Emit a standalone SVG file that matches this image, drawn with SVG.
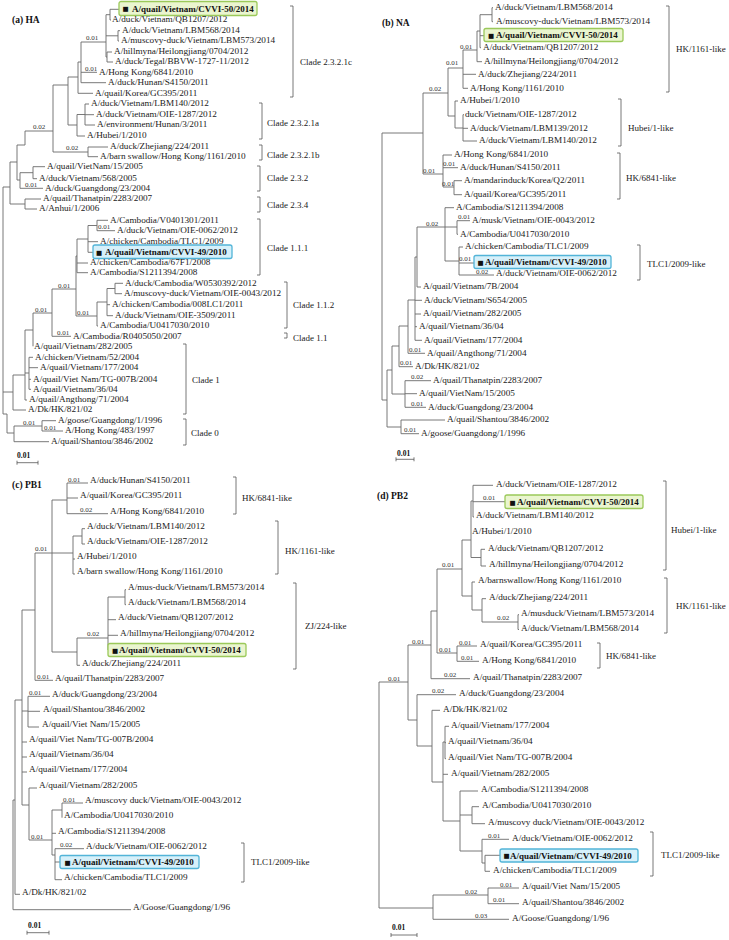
<svg xmlns="http://www.w3.org/2000/svg" width="729" height="940" viewBox="0 0 729 940">
<style>
.lf{font-family:'Liberation Serif','Times New Roman',serif;font-size:9.2px;fill:#1a1a1a}
.bx{font-family:'Liberation Serif','Times New Roman',serif;font-size:9px;font-weight:bold;fill:#111}
.sq{font-family:'DejaVu Sans',sans-serif;font-size:6.5px;fill:#111}
.cl{font-family:'Liberation Serif','Times New Roman',serif;font-size:9px;fill:#1a1a1a}
.bl{font-family:'Liberation Serif','Times New Roman',serif;font-size:7px;fill:#333}
.pl{font-family:'Liberation Serif','Times New Roman',serif;font-size:9.5px;font-weight:bold;fill:#111}
.sc{font-family:'Liberation Serif','Times New Roman',serif;font-size:7.5px;font-weight:bold;fill:#111}
.ln{fill:none;stroke:#6a6a6a;stroke-width:0.9}
.br{fill:none;stroke:#555;stroke-width:0.8}
.gbox{fill:#eaf5cf;stroke:#9bc95a;stroke-width:1.3}
.bbox{fill:#d6f0fa;stroke:#52b4d8;stroke-width:1.3}
</style>
<rect width="729" height="940" fill="#fff"/>
<g id="connectors">
<path id="conn-a" class="ln" d="M110 9.3V20M110 9.3H119M110 20H111M118 30.7V41M118 30.7H120M118 41H119M107 52V62M107 52H112M107 62H113M106 14.7V57M106 14.7H110M106 35.8H118M106 57H107M81 42V82.7M81 42H106M81 72.3H97M81 82.7H106M78 62V93.3M78 62H81M78 93.3H93M85 104V125M85 104H89M85 114.7H94M85 125H95M77 114.5V136M77 114.5H85M77 136H85M68 77V125M68 77H78M68 125H77M88 147V156.7M88 147H108M88 156.7H98M53 85V152M53 85H68M53 152H88M25 131V145M25 131H53M17 145H25M33 166.7V178.7M33 166.7H45M33 178.7H37M20 172.7V188.3M20 172.7H33M20 188.3H43M17 145V180M17 180H20M25 199V209M25 199H41M25 209H37M10 162V204M10 162H17M10 204H25M3 187V414M3 187H10M3 392H13M3 414H7M7 414V433M7 433H14M97 220.3V230.7M97 220.3H108M97 230.7H115M88 225.5V252.3M88 225.5H97M88 241.7H98M88 252.3H93M77 239V272.7M77 239H88M77 263H88M77 272.7H88M115 283.3V293.7M115 283.3H123M115 293.7H122M107 288.5V315.7M107 288.5H115M107 304.7H110M107 315.7H113M97 302V326M97 302H107M97 326H98M76 256V316M76 256H77M76 316H97M52 289V336.3M52 289H76M52 336.3H71M33 313V346.3M33 313H52M29 357.3V389.3M29 357.3H33M29 367.7H38M29 379.3H31M29 389.3H31M25 330V400M25 330H33M25 373H29M25 400H27M13 375V410M13 375H25M13 410H26M42 420.7V431M42 420.7H56M42 431H63M14 426V441.7M14 426H42M14 441.7H49"/>
<path id="conn-b" class="ln" d="M492 7.7V21.7M492 7.7H493M492 21.7H493M480 14.7V47.7M480 14.7H492M480 35.7H484M480 47.7H481M477 31V61.7M477 31H480M477 61.7H482M463 50V88.3M463 50H477M463 74.3H476M463 88.3H468M448 68V116M448 68H463M448 116H455M455 101V128M455 101H458M455 128H463M463 114.7V141M463 114.7H464M463 128.3H468M463 141H477M443 155V187M443 155H452M443 167.7H458M443 187H454M454 180.7V194.7M454 180.7H462M454 194.7H462M423 93V174M423 93H448M423 174H443M382 133V400M382 133H423M382 400H387M457 220.7V234.3M457 220.7H470M457 234.3H458M459 247V275M459 247H463M459 263H474M459 275H494M445 207.7V261M445 207.7H454M445 227H457M445 261H459M417 227V287M417 227H445M417 287H421M415 257V340.3M415 257H417M415 300.3H422M415 314H421M415 326.7H417M415 340.3H422M408 300V353.3M408 300H415M408 353.3H425M399 326V366.7M399 326H408M399 366.7H413M405 380.7V407.3M405 380.7H431M405 393.7H417M405 407.3H426M392 346V394M392 346H399M392 394H405M401 420V433.7M401 420H445M401 433.7H419M387 370V427M387 370H392M387 427H401"/>
<path id="conn-c" class="ln" d="M67 483V513.7M67 483H88M67 498H78M67 513.7H108M82 528.7V544M82 528.7H85M82 544H85M73 536V574M73 536H82M73 559H75M73 574H75M125 589.7V604.7M125 589.7H126M125 604.7H126M108 597V650M108 597H125M108 619.7H116M108 635.3H118M77 638V665.3M77 638H108M77 665.3H80M52 500V652M52 500H67M35 553H73M52 652H77M35 553V680.3M35 680.3H53M22 610V805M22 610H35M22 711H28M22 742H27M22 757H27M22 772H27M22 805H29M28 696.3V727M28 696.3H50M28 711.3H40M28 727H39M29 788V840M29 788H37M29 840H52M62 803V817.7M62 803H83M52 810V855M52 810H62M52 833.3H56M52 855H55M55 848.7V879.7M55 848.7H84M55 862H60M55 879.7H62M15 700V894.3M15 700H22M15 894.3H20M13 800V909.7M13 800H15M13 909.7H131"/>
<path id="conn-d" class="ln" d="M473 485.3V517M473 485.3H493M473 501.7H505M473 517H474M481 549.3V566M481 549.3H485M481 566H486M471 501V557.5M471 501H473M471 557.5H481M518 614.7V629.5M518 614.7H519M518 629.5H519M482 598.7V622M482 598.7H486M482 622H518M472 582V610M472 582H475M472 610H482M462 540V596M462 540H471M462 596H472M457 646V661.3M457 646H477M457 661.3H479M437 569V653M437 569H462M437 653H457M431 611V678.7M431 611H437M431 678.7H470M445 726.3V758.7M445 726.3H449M445 742.7H446M445 758.7H446M472 806.7V823.7M472 806.7H479M472 823.7H485M485 855.3V871.3M485 855.3H500M485 871.3H490M482 839.3V863M482 839.3H509M482 863H485M460 791V851M460 791H478M460 815H472M460 851H482M443 742V821M443 742H445M443 774.3H448M443 821H460M432 710.3V782M432 710.3H440M432 782H443M417 694.7V746M417 694.7H456M417 746H432M408 645V720M408 645H431M408 720H417M488 888V903.7M488 888H519M488 903.7H519M433 895V919.3M433 895H488M433 919.3H509M379 682V908M379 682H408M379 908H433"/>
</g>
<g id="branch-labels">
<text class="bl" x="86" y="40">0.01</text><text class="bl" x="85" y="71">0.01</text><text class="bl" x="33" y="129">0.02</text><text class="bl" x="66" y="150">0.02</text><text class="bl" x="25" y="186.5">0.01</text><text class="bl" x="98" y="229">0.01</text><text class="bl" x="58" y="287.5">0.01</text><text class="bl" x="35" y="311.5">0.01</text><text class="bl" x="77" y="314.5">0.01</text><text class="bl" x="57" y="334.5">0.01</text><text class="bl" x="23" y="424.5">0.01</text><text class="bl" x="44" y="429.5">0.01</text>
<text class="bl" x="460" y="48.5">0.01</text><text class="bl" x="446" y="65">0.01</text><text class="bl" x="429" y="90.5">0.02</text><text class="bl" x="443" y="165.5">0.01</text><text class="bl" x="423" y="172.5">0.01</text><text class="bl" x="442" y="185.5">0.01</text><text class="bl" x="426" y="225.5">0.02</text><text class="bl" x="458" y="219">0.01</text><text class="bl" x="459" y="261">0.01</text><text class="bl" x="476" y="273.5">0.02</text><text class="bl" x="409" y="351.5">0.01</text><text class="bl" x="400" y="365">0.01</text><text class="bl" x="411" y="379">0.02</text><text class="bl" x="411" y="405.5">0.01</text><text class="bl" x="404" y="432">0.01</text>
<text class="bl" x="68" y="481.5">0.01</text><text class="bl" x="80" y="512">0.02</text><text class="bl" x="35" y="551">0.01</text><text class="bl" x="87" y="636">0.02</text><text class="bl" x="37" y="678.5">0.01</text><text class="bl" x="29" y="694.5">0.01</text><text class="bl" x="63" y="801.5">0.01</text><text class="bl" x="31" y="838.5">0.01</text><text class="bl" x="60" y="847">0.02</text>
<text class="bl" x="483" y="500">0.01</text><text class="bl" x="497" y="620">0.02</text><text class="bl" x="459" y="644.5">0.01</text><text class="bl" x="461" y="660">0.01</text><text class="bl" x="442" y="567">0.01</text><text class="bl" x="439" y="651.5">0.01</text><text class="bl" x="444" y="677">0.02</text><text class="bl" x="432" y="693">0.02</text><text class="bl" x="412" y="643.5">0.01</text><text class="bl" x="388" y="680.5">0.01</text><text class="bl" x="488" y="837.5">0.01</text><text class="bl" x="500" y="886.5">0.01</text><text class="bl" x="493" y="902">0.01</text><text class="bl" x="465" y="893.5">0.02</text><text class="bl" x="475" y="917.5">0.03</text>
</g>
<g id="panel-a">
<text class="pl" x="12" y="23">(a) HA</text>
<g id="a1"><rect class="gbox" x="119" y="1.5" width="138" height="14" rx="2"/><text class="sq" x="122.5" y="11.3">■</text><text class="bx" x="132" y="11.5">A/quail/Vietnam/CVVI-50/2014</text></g>
<g id="a2"><text class="lf" x="112" y="22.2">A/duck/Vietnam/QB1207/2012</text></g>
<g id="a3"><text class="lf" x="122" y="32.9">A/duck/Vietnam/LBM568/2014</text></g>
<g id="a4"><text class="lf" x="121" y="43.2">A/muscovy-duck/Vietnam/LBM573/2014</text></g>
<g id="a5"><text class="lf" x="114" y="54.2">A/hillmyna/Heilongjiang/0704/2012</text></g>
<g id="a6"><text class="lf" x="115" y="64.2">A/duck/Tegal/BBVW-1727-11/2012</text></g>
<g id="a7"><text class="lf" x="99" y="74.5">A/Hong Kong/6841/2010</text></g>
<g id="a8"><text class="lf" x="108" y="84.9">A/duck/Hunan/S4150/2011</text></g>
<g id="a9"><text class="lf" x="95" y="95.5">A/quail/Korea/GC395/2011</text></g>
<g id="a10"><text class="lf" x="91" y="106.2">A/duck/Vietnam/LBM140/2012</text></g>
<g id="a11"><text class="lf" x="96" y="116.9">A/duck/Vietnam/OIE-1287/2012</text></g>
<g id="a12"><text class="lf" x="97" y="127.2">A/environment/Hunan/3/2011</text></g>
<g id="a13"><text class="lf" x="87" y="138.2">A/Hubei/1/2010</text></g>
<g id="a14"><text class="lf" x="110" y="149.2">A/duck/Zhejiang/224/2011</text></g>
<g id="a15"><text class="lf" x="100" y="158.9">A/barn swallow/Hong Kong/1161/2010</text></g>
<g id="a16"><text class="lf" x="47" y="168.9">A/quail/VietNam/15/2005</text></g>
<g id="a17"><text class="lf" x="39" y="180.9">A/duck/Vietnam/568/2005</text></g>
<g id="a18"><text class="lf" x="45" y="190.5">A/duck/Guangdong/23/2004</text></g>
<g id="a19"><text class="lf" x="43" y="201.2">A/quail/Thanatpin/2283/2007</text></g>
<g id="a20"><text class="lf" x="39" y="211.2">A/Anhui/1/2006</text></g>
<g id="a21"><text class="lf" x="110" y="222.5">A/Cambodia/V0401301/2011</text></g>
<g id="a22"><text class="lf" x="117" y="232.9">A/duck/Vietnam/OIE-0062/2012</text></g>
<g id="a23"><text class="lf" x="100" y="243.9">A/chicken/Cambodia/TLC1/2009</text></g>
<g id="a24"><rect class="bbox" x="93" y="245" width="139" height="13.5" rx="2"/><text class="sq" x="96" y="254.5">■</text><text class="bx" x="105" y="254.7">A/quail/Vietnam/CVVI-49/2010</text></g>
<g id="a25"><text class="lf" x="90" y="265.2">A/chicken/Cambodia/67F1/2008</text></g>
<g id="a26"><text class="lf" x="90" y="274.9">A/Cambodia/S1211394/2008</text></g>
<g id="a27"><text class="lf" x="125" y="285.5">A/duck/Cambodia/W0530392/2012</text></g>
<g id="a28"><text class="lf" x="124" y="295.9">A/muscovy-duck/Vietnam/OIE-0043/2012</text></g>
<g id="a29"><text class="lf" x="112" y="306.9">A/chicken/Cambodia/008LC1/2011</text></g>
<g id="a30"><text class="lf" x="115" y="317.9">A/duck/Vietnam/OIE-3509/2011</text></g>
<g id="a31"><text class="lf" x="100" y="328.2">A/Cambodia/U0417030/2010</text></g>
<g id="a32"><text class="lf" x="73" y="338.5">A/Cambodia/R0405050/2007</text></g>
<g id="a33"><text class="lf" x="34" y="348.5">A/quail/Vietnam/282/2005</text></g>
<g id="a34"><text class="lf" x="35" y="359.5">A/chicken/Vietnam/52/2004</text></g>
<g id="a35"><text class="lf" x="40" y="369.9">A/quail/Vietnam/177/2004</text></g>
<g id="a36"><text class="lf" x="33" y="381.5">A/quail/Viet Nam/TG-007B/2004</text></g>
<g id="a37"><text class="lf" x="33" y="391.5">A/quail/Vietnam/36/04</text></g>
<g id="a38"><text class="lf" x="29" y="402.2">A/quail/Angthong/71/2004</text></g>
<g id="a39"><text class="lf" x="28" y="412.2">A/Dk/HK/821/02</text></g>
<g id="a40"><text class="lf" x="58" y="422.9">A/goose/Guangdong/1/1996</text></g>
<g id="a41"><text class="lf" x="65" y="433.2">A/Hong Kong/483/1997</text></g>
<g id="a42"><text class="lf" x="51" y="443.9">A/quail/Shantou/3846/2002</text></g>
<g id="clades-a">
<path class="br" d="M290 6H293V97H290M259 103H262V139H259M259 145H262V160H259M257 166H260V191H257M257 197H260V212H257M257 219H260V275H257M284 282H287V328H284M284 333H287V338H284M183 344H186V414H183M183 419H186V445H183"/>
<text class="cl" x="300" y="65">Clade 2.3.2.1c</text><text class="cl" x="267" y="126">Clade 2.3.2.1a</text><text class="cl" x="267" y="158">Clade 2.3.2.1b</text><text class="cl" x="267" y="181">Clade 2.3.2</text><text class="cl" x="267" y="208">Clade 2.3.4</text><text class="cl" x="267" y="251">Clade 1.1.1</text><text class="cl" x="293" y="308">Clade 1.1.2</text><text class="cl" x="293" y="341">Clade 1.1</text><text class="cl" x="192" y="383">Clade 1</text><text class="cl" x="191" y="436">Clade 0</text>
</g>
<g id="scale-a"><text class="sc" x="17" y="458">0.01</text><path class="br" d="M17 462.7H38M17 460.7V464.7M38 460.7V464.7"/></g>
</g>
<g id="panel-b">
<text class="pl" x="382" y="26">(b) NA</text>
<g id="b1"><text class="lf" x="495" y="9.9">A/duck/Vietnam/LBM568/2014</text></g>
<g id="b2"><text class="lf" x="496" y="23.9">A/muscovy-duck/Vietnam/LBM573/2014</text></g>
<g id="b3"><rect class="gbox" x="484" y="28.5" width="139" height="13" rx="2"/><text class="sq" x="488" y="37.8">■</text><text class="bx" x="496" y="38">A/quail/Vietnam/CVVI-50/2014</text></g>
<g id="b4"><text class="lf" x="483" y="49.9">A/duck/Vietnam/QB1207/2012</text></g>
<g id="b5"><text class="lf" x="484" y="63.9">A/hillmyna/Heilongjiang/0704/2012</text></g>
<g id="b6"><text class="lf" x="478" y="76.5">A/duck/Zhejiang/224/2011</text></g>
<g id="b7"><text class="lf" x="470" y="90.5">A/Hong Kong/1161/2010</text></g>
<g id="b8"><text class="lf" x="460" y="103.2">A/Hubei/1/2010</text></g>
<g id="b9"><text class="lf" x="465" y="116.9">duck/Vietnam/OIE-1287/2012</text></g>
<g id="b10"><text class="lf" x="470" y="130.5">A/duck/Vietnam/LBM139/2012</text></g>
<g id="b11"><text class="lf" x="479" y="143.2">A/duck/Vietnam/LBM140/2012</text></g>
<g id="b12"><text class="lf" x="454" y="157.2">A/Hong Kong/6841/2010</text></g>
<g id="b13"><text class="lf" x="460" y="169.9">A/duck/Hunan/S4150/2011</text></g>
<g id="b14"><text class="lf" x="464" y="182.9">A/mandarinduck/Korea/Q2/2011</text></g>
<g id="b15"><text class="lf" x="464" y="196.9">A/quail/Korea/GC395/2011</text></g>
<g id="b16"><text class="lf" x="456" y="209.9">A/Cambodia/S1211394/2008</text></g>
<g id="b17"><text class="lf" x="472" y="222.9">A/musk/Vietnam/OIE-0043/2012</text></g>
<g id="b18"><text class="lf" x="460" y="236.5">A/Cambodia/U0417030/2010</text></g>
<g id="b19"><text class="lf" x="465" y="249.2">A/chicken/Cambodia/TLC1/2009</text></g>
<g id="b20"><rect class="bbox" x="474" y="255.5" width="137" height="13" rx="2"/><text class="sq" x="477.5" y="265">■</text><text class="bx" x="485" y="265.2">A/quail/Vietnam/CVVI-49/2010</text></g>
<g id="b21"><text class="lf" x="496" y="275.9">A/duck/Vietnam/OIE-0062/2012</text></g>
<g id="b22"><text class="lf" x="423" y="289.2">A/quail/Vietnam/7B/2004</text></g>
<g id="b23"><text class="lf" x="424" y="302.5">A/duck/Vietnam/S654/2005</text></g>
<g id="b24"><text class="lf" x="423" y="316.2">A/quail/Vietnam/282/2005</text></g>
<g id="b25"><text class="lf" x="419" y="328.9">A/quail/Vietnam/36/04</text></g>
<g id="b26"><text class="lf" x="424" y="342.5">A/quail/Vietnam/177/2004</text></g>
<g id="b27"><text class="lf" x="427" y="355.5">A/quail/Angthong/71/2004</text></g>
<g id="b28"><text class="lf" x="415" y="368.9">A/Dk/HK/821/02</text></g>
<g id="b29"><text class="lf" x="433" y="382.9">A/quail/Thanatpin/2283/2007</text></g>
<g id="b30"><text class="lf" x="419" y="395.9">A/quail/VietNam/15/2005</text></g>
<g id="b31"><text class="lf" x="428" y="409.5">A/duck/Guangdong/23/2004</text></g>
<g id="b32"><text class="lf" x="447" y="422.2">A/quail/Shantou/3846/2002</text></g>
<g id="b33"><text class="lf" x="421" y="435.9">A/goose/Guangdong/1/1996</text></g>
<g id="clades-b">
<path class="br" d="M666 6H669V92H666M618 99H621V146H618M617 153H620V199H617M637 245H640V280H637"/>
<text class="cl" x="676" y="51.7">HK/1161-like</text><text class="cl" x="628" y="130.7">Hubei/1-like</text><text class="cl" x="626" y="181">HK/6841-like</text><text class="cl" x="647" y="267">TLC1/2009-like</text>
</g>
<g id="scale-b"><text class="sc" x="397" y="455.5">0.01</text><path class="br" d="M396 459.3H414M396 457.3V461.3M414 457.3V461.3"/></g>
</g>
<g id="panel-c">
<text class="pl" x="12" y="488">(c) PB1</text>
<g id="c1"><text class="lf" x="90" y="483.2">A/duck/Hunan/S4150/2011</text></g>
<g id="c2"><text class="lf" x="80" y="498.2">A/quail/Korea/GC395/2011</text></g>
<g id="c3"><text class="lf" x="110" y="513.9">A/Hong Kong/6841/2010</text></g>
<g id="c4"><text class="lf" x="87" y="528.9">A/duck/Vietnam/LBM140/2012</text></g>
<g id="c5"><text class="lf" x="87" y="544.2">A/duck/Vietnam/OIE-1287/2012</text></g>
<g id="c6"><text class="lf" x="77" y="559.2">A/Hubei/1/2010</text></g>
<g id="c7"><text class="lf" x="77" y="574.2">A/barn swallow/Hong Kong/1161/2010</text></g>
<g id="c8"><text class="lf" x="128" y="589.9">A/mus-duck/Vietnam/LBM573/2014</text></g>
<g id="c9"><text class="lf" x="128" y="604.9">A/duck/Vietnam/LBM568/2014</text></g>
<g id="c10"><text class="lf" x="118" y="619.9">A/duck/Vietnam/QB1207/2012</text></g>
<g id="c11"><text class="lf" x="120" y="635.5">A/hillmyna/Heilongjiang/0704/2012</text></g>
<g id="c12"><rect class="gbox" x="108" y="643.5" width="138" height="13" rx="2"/><text class="sq" x="112" y="653">■</text><text class="bx" x="119" y="653.2">A/quail/Vietnam/CVVI-50/2014</text></g>
<g id="c13"><text class="lf" x="82" y="665.5">A/duck/Zhejiang/224/2011</text></g>
<g id="c14"><text class="lf" x="55" y="680.5">A/quail/Thanatpin/2283/2007</text></g>
<g id="c15"><text class="lf" x="52" y="696.5">A/duck/Guangdong/23/2004</text></g>
<g id="c16"><text class="lf" x="43" y="711.5">A/quail/Shantou/3846/2002</text></g>
<g id="c17"><text class="lf" x="42" y="727.2">A/quail/Viet Nam/15/2005</text></g>
<g id="c18"><text class="lf" x="29" y="742.2">A/quail/Viet Nam/TG-007B/2004</text></g>
<g id="c19"><text class="lf" x="29" y="757.2">A/quail/Vietnam/36/04</text></g>
<g id="c20"><text class="lf" x="29" y="772.2">A/quail/Vietnam/177/2004</text></g>
<g id="c21"><text class="lf" x="39" y="788.2">A/quail/Vietnam/282/2005</text></g>
<g id="c22"><text class="lf" x="85" y="803.2">A/muscovy duck/Vietnam/OIE-0043/2012</text></g>
<g id="c23"><text class="lf" x="64" y="817.9">A/Cambodia/U0417030/2010</text></g>
<g id="c24"><text class="lf" x="58" y="833.5">A/Cambodia/S1211394/2008</text></g>
<g id="c25"><text class="lf" x="86" y="848.9">A/duck/Vietnam/OIE-0062/2012</text></g>
<g id="c26"><rect class="bbox" x="60" y="855.5" width="139" height="13" rx="2"/><text class="sq" x="64.5" y="865">■</text><text class="bx" x="72" y="865.2">A/quail/Vietnam/CVVI-49/2010</text></g>
<g id="c27"><text class="lf" x="64" y="879.9">A/chicken/Cambodia/TLC1/2009</text></g>
<g id="c28"><text class="lf" x="22" y="894.5">A/Dk/HK/821/02</text></g>
<g id="c29"><text class="lf" x="133" y="909.9">A/Goose/Guangdong/1/96</text></g>
<g id="clades-c">
<path class="br" d="M233 477H236V514H233M275 521H278V574H275M293 583H296V669H293M241 843H244V882H241"/>
<text class="cl" x="242" y="501.3">HK/6841-like</text><text class="cl" x="285" y="554">HK/1161-like</text><text class="cl" x="305" y="629">ZJ/224-like</text><text class="cl" x="251" y="865">TLC1/2009-like</text>
</g>
<g id="scale-c"><text class="sc" x="28" y="928">0.01</text><path class="br" d="M27 932.7H49M27 930.7V934.7M49 930.7V934.7"/></g>
</g>
<g id="panel-d">
<text class="pl" x="377" y="499">(d) PB2</text>
<g id="d1"><text class="lf" x="496" y="486.5">A/duck/Vietnam/OIE-1287/2012</text></g>
<g id="d2"><rect class="gbox" x="505" y="495" width="138" height="13.5" rx="2"/><text class="sq" x="509.5" y="504.8">■</text><text class="bx" x="517" y="505">A/quail/Vietnam/CVVI-50/2014</text></g>
<g id="d3"><text class="lf" x="476" y="518.2">A/duck/Vietnam/LBM140/2012</text></g>
<g id="d4"><text class="lf" x="472" y="534.2">A/Hubei/1/2010</text></g>
<g id="d5"><text class="lf" x="488" y="550.5">A/duck/Vietnam/QB1207/2012</text></g>
<g id="d6"><text class="lf" x="489" y="567.2">A/hillmyna/Heilongjiang/0704/2012</text></g>
<g id="d7"><text class="lf" x="478" y="583.2">A/barnswallow/Hong Kong/1161/2010</text></g>
<g id="d8"><text class="lf" x="489" y="599.9">A/duck/Zhejiang/224/2011</text></g>
<g id="d9"><text class="lf" x="521" y="615.9">A/musduck/Vietnam/LBM573/2014</text></g>
<g id="d10"><text class="lf" x="521" y="630.7">A/duck/Vietnam/LBM568/2014</text></g>
<g id="d11"><text class="lf" x="480" y="647.2">A/quail/Korea/GC395/2011</text></g>
<g id="d12"><text class="lf" x="482" y="662.5">A/Hong Kong/6841/2010</text></g>
<g id="d13"><text class="lf" x="473" y="679.9">A/quail/Thanatpin/2283/2007</text></g>
<g id="d14"><text class="lf" x="459" y="695.9">A/duck/Guangdong/23/2004</text></g>
<g id="d15"><text class="lf" x="443" y="711.5">A/Dk/HK/821/02</text></g>
<g id="d16"><text class="lf" x="451" y="727.5">A/quail/Vietnam/177/2004</text></g>
<g id="d17"><text class="lf" x="448" y="743.9">A/quail/Vietnam/36/04</text></g>
<g id="d18"><text class="lf" x="448" y="759.9">A/quail/Viet Nam/TG-007B/2004</text></g>
<g id="d19"><text class="lf" x="451" y="775.5">A/quail/Vietnam/282/2005</text></g>
<g id="d20"><text class="lf" x="481" y="792.2">A/Cambodia/S1211394/2008</text></g>
<g id="d21"><text class="lf" x="482" y="807.9">A/Cambodia/U0417030/2010</text></g>
<g id="d22"><text class="lf" x="488" y="824.9">A/muscovy duck/Vietnam/OIE-0043/2012</text></g>
<g id="d23"><text class="lf" x="512" y="840.5">A/duck/Vietnam/OIE-0062/2012</text></g>
<g id="d24"><rect class="bbox" x="500" y="849" width="138" height="13" rx="2"/><text class="sq" x="503.5" y="858.3">■</text><text class="bx" x="510" y="858.5">A/quail/Vietnam/CVVI-49/2010</text></g>
<g id="d25"><text class="lf" x="493" y="872.5">A/chicken/Cambodia/TLC1/2009</text></g>
<g id="d26"><text class="lf" x="522" y="889.2">A/quail/Viet Nam/15/2005</text></g>
<g id="d27"><text class="lf" x="522" y="904.9">A/quail/Shantou/3846/2002</text></g>
<g id="d28"><text class="lf" x="512" y="920.5">A/Goose/Guangdong/1/96</text></g>
<g id="clades-d">
<path class="br" d="M663 481H666V570H663M664 578H667V633H664M597 643H600V668H597M650 832H653V876H650"/>
<text class="cl" x="671" y="533">Hubei/1-like</text><text class="cl" x="676" y="609">HK/1161-like</text><text class="cl" x="606" y="659">HK/6841-like</text><text class="cl" x="661" y="858">TLC1/2009-like</text>
</g>
<g id="scale-d"><text class="sc" x="392" y="930">0.01</text><path class="br" d="M391 935H417M391 933V937M417 933V937"/></g>
</g>
</svg>
